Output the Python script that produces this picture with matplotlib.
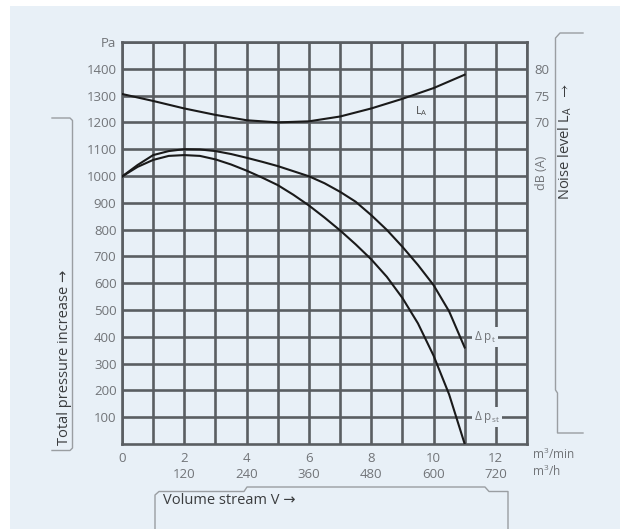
import matplotlib
matplotlib.use('Agg')
import matplotlib.pyplot as plt
from matplotlib.patches import Rectangle

plt.rcParams['font.family'] = ['Open Sans', 'DejaVu Sans']
plt.rcParams['mathtext.default'] = 'regular'

# ---------------- data ----------------
volume_m3min = [0, 0.5, 1, 1.5, 2, 2.5, 3, 3.5, 4, 4.5, 5, 5.5, 6, 6.5, 7, 7.5,
                8, 8.5, 9, 9.5, 10, 10.5, 11]
dp_total = [998, 1041, 1078, 1093, 1100, 1099, 1093, 1082, 1068, 1053, 1037, 1018, 999,
            973, 941, 904, 854, 799, 736, 668, 593, 495, 360]
dp_static = [998, 1034, 1060, 1075, 1078, 1075, 1062, 1043, 1020, 994, 966, 930, 890,
             845, 797, 745, 689, 624, 545, 450, 330, 185, 0]

noise_x = [0, 1, 2, 3, 4, 5, 6, 7, 8, 9, 10, 11]
noise_dba = [75.3, 74.0, 72.6, 71.4, 70.4, 70.0, 70.2, 71.1, 72.6, 74.4, 76.4, 78.9]

x_ticks = [0, 2, 4, 6, 8, 10, 12]
x_ticks_m3h = ['', '120', '240', '360', '480', '600', '720']
y_ticks = list(range(100, 1600, 100))
y_tick_labels = [str(v) for v in range(100, 1500, 100)] + ['Pa']
db_ticks = [70, 75, 80]

# ---------------- figure ----------------
W, H = 622, 529
fig = plt.figure(figsize=(W / 100, H / 100), dpi=100)
fig.patch.set_facecolor('white')
bg = '#e8f0f7'
grid_c = '#5a5e62'
tick_c = '#717478'
title_c = '#3a3c3e'
brk_c = '#9a9ea2'

ov = fig.add_axes([0, 0, 1, 1], zorder=0)
ov.set_xlim(0, W)
ov.set_ylim(H, 0)
ov.axis('off')
ov.add_patch(Rectangle((10, 6), 610, 523, facecolor=bg, edgecolor='none'))

# brackets
lw_b = 1.0
ov.plot([52, 70, 72.5, 72.5, 70, 52], [118, 118, 120.5, 448, 450.5, 450.5], color=brk_c, lw=lw_b)
ov.plot([583, 560, 555.5, 555.5, 557.5, 557.5, 583],
        [33, 33, 38, 390, 393, 433, 433], color=brk_c, lw=lw_b)
ov.plot([155, 155, 159, 244, 247, 485, 489, 508, 508],
        [529, 495, 491.5, 491.5, 487, 487, 491.5, 491.5, 529], color=brk_c, lw=lw_b)

ov.text(65, 357, 'Total pressure increase \u2192', rotation=90, ha='center', va='center',
        fontsize=10.5, color=title_c)
ov.text(565, 142, r'Noise level L$_A$  $\rightarrow$', rotation=90, ha='center', va='center',
        fontsize=10.5, color=title_c)
ov.text(163, 501, 'Volume stream V \u2192', ha='left', va='center', fontsize=10.5, color=title_c)

# ---------------- main axes ----------------
L, R, T, B = 122, 527, 42, 444
ax = fig.add_axes([L / W, 1 - B / H, (R - L) / W, (B - T) / H], zorder=2)
ax.set_facecolor('none')
ax.set_xlim(0, 13)
ax.set_ylim(0, 1500)

ax.set_xticks(x_ticks)
ax.set_xticks([1, 3, 5, 7, 9, 11, 13], minor=True)
ax.set_xticklabels([f'{t}\n{m}' if m else f'{t}' for t, m in zip(x_ticks, x_ticks_m3h)],
                   linespacing=1.3)
ax.set_yticks(y_ticks)
ax.set_yticklabels(y_tick_labels)
ax.tick_params(which='both', length=0, colors=tick_c, labelsize=9.5)
ax.tick_params(axis='y', pad=4)
ax.tick_params(axis='x', pad=6)
ax.grid(which='both', color=grid_c, lw=1.9)
ax.set_axisbelow(True)
for s in ax.spines.values():
    s.set_color(grid_c)
    s.set_linewidth(1.9)

ax.plot(volume_m3min, dp_total, color='#1a1a1a', lw=1.5, zorder=3)
ax.plot(volume_m3min, dp_static, color='#1a1a1a', lw=1.5, zorder=3)

lab_bbox = dict(facecolor=bg, edgecolor='none', pad=1.5)
ax.text(11.3, 400, r'$\Delta$ p$_t$', fontsize=8.5, color=tick_c, ha='left', va='center',
        bbox=lab_bbox, zorder=4)
ax.text(11.3, 100, r'$\Delta$ p$_{st}$', fontsize=8.5, color=tick_c, ha='left', va='center',
        bbox=lab_bbox, zorder=4)

# units
ax.text(13.15, -38, 'm$^3$/min', fontsize=8.5, color=tick_c, ha='left', va='center')
ax.text(13.15, -103, 'm$^3$/h', fontsize=8.5, color=tick_c, ha='left', va='center')

# ---------------- noise axis ----------------
ax2 = ax.twinx()
ax2.set_ylim(10, 85)
ax2.set_yticks(db_ticks)
ax2.set_yticklabels([str(v) for v in db_ticks])
ax2.tick_params(length=0, colors=tick_c, labelsize=9.5, pad=5)
for s in ax2.spines.values():
    s.set_visible(False)
ax2.plot(noise_x, noise_dba, color='#1a1a1a', lw=1.5, zorder=3)
ax2.text(9.6, 72.2, 'L$_A$', fontsize=8, color='#4a4a4a', ha='center', va='center')
ax2.text(13.45, 60.5, 'dB (A)', rotation=90, fontsize=9, color=tick_c, ha='center', va='center')

fig.savefig('out.png', dpi=100, facecolor=fig.get_facecolor())
